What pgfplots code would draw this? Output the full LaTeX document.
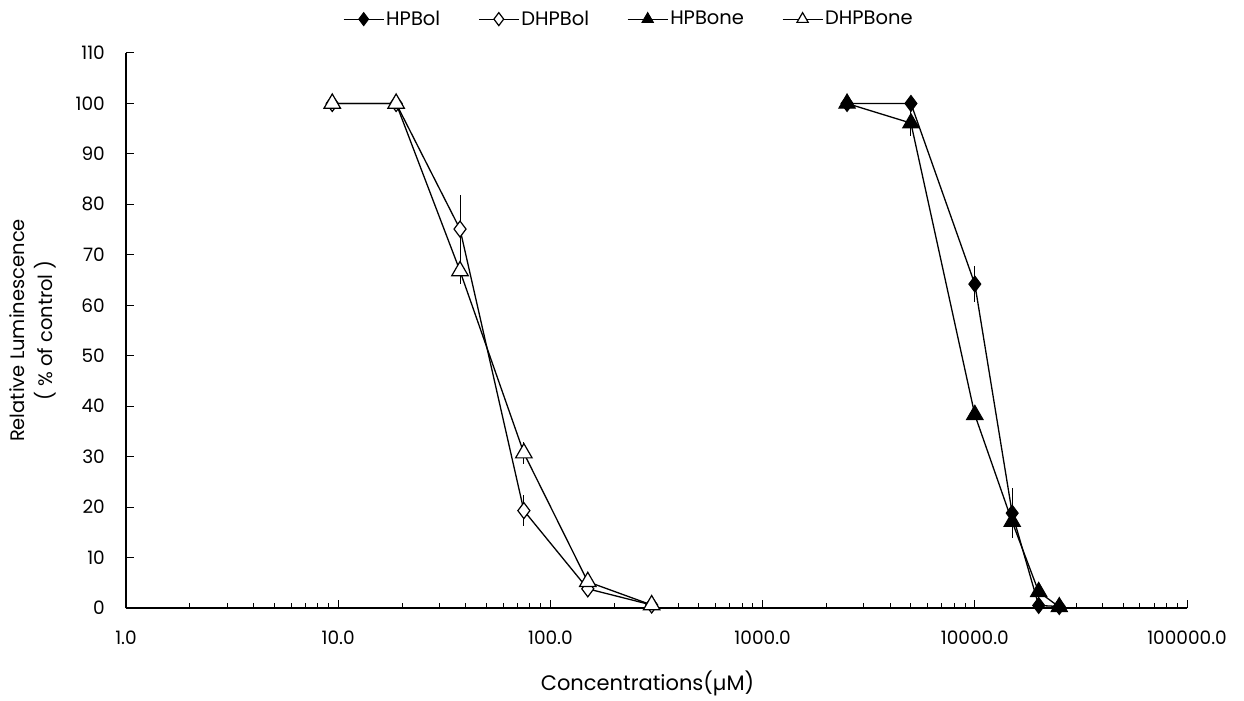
\documentclass[border=0pt]{standalone}
\usepackage{fontspec}
\setmainfont{Poppins}
\usepackage{pgfplots}
\pgfplotsset{compat=1.18}
\begin{document}
\fontsize{15}{18}\selectfont
\begin{tikzpicture}
\begin{axis}[
  at={(0,0)}, anchor=south west,
  scale only axis, width=1061pt, height=555pt,
  xmode=log, xmin=1, xmax=100000, ymin=0, ymax=110,
  axis lines*=left,
  ytick={0,10,...,110},
  xtick={1,10,100,1000,10000,100000},
  xticklabels={1.0,10.0,100.0,1000.0,10000.0,100000.0},
  major tick length=8pt, minor tick length=5pt,
  tick style={black, line width=1pt},
  axis line style={line width=1.3pt},
  /pgf/number format/assume math mode=true,
  ticklabel style={font=\fontsize{18.5}{22}\selectfont},
  xticklabel style={yshift=-18pt},
  yticklabel style={xshift=-16pt},
  xlabel={Concentrations(µM)},
  xlabel style={font=\fontsize{21}{25}\selectfont, at={(axis description cs:0.4915,-0.135)}, anchor=center},
  ylabel={Relative Luminescence\\( \% of control )},
  ylabel style={font=\fontsize{19.5}{28}\selectfont, align=center, at={(axis description cs:-0.088,0.5)}, anchor=center, rotate=0},
  legend columns=4,
  legend style={draw=none, at={(axis description cs:0.474,1.061)}, anchor=center, font=\fontsize{19.5}{22}\selectfont, /tikz/every even column/.append style={column sep=36pt}},
  legend image code/.code={\draw[#1, line width=1.1pt] (0pt,0pt) -- (40pt,0pt); \draw[#1, mark size=6.5pt, mark repeat=1] plot coordinates {(20pt,0pt)};},
  every axis plot/.append style={line width=1.3pt, black},
  error bars/y dir=both, error bars/y explicit, error bars/error mark=none,
  error bars/error bar style={line width=1pt, black},
  clip=false,
]
\addplot[mark=diamond*, mark size=8pt, mark options={fill=black, line width=1pt}] table[x=x, y=y, y error=e] {
x y e
2500 100 0
5000 100 0
10000 64.2 3.5
15000 18.8 5
20000 0.5 0
25000 0.3 0
};
\addlegendentry{HPBol}
\addplot[mark=diamond*, mark size=8pt, mark options={fill=white, line width=1.2pt}] table[x=x, y=y, y error=e] {
x y e
9.375 100 0
18.75 100 0
37.5 75.1 6.8
75 19.3 3.1
150 3.8 0.8
300 0.6 0
};
\addlegendentry{DHPBol}
\addplot[mark=triangle*, mark size=9.5pt, mark options={fill=black, line width=1pt}] table[x=x, y=y, y error=e] {
x y e
2500 100 0
5000 96.1 2.5
10000 38.3 0
15000 17.1 1.5
20000 3.2 0.5
25000 0.2 0
};
\addlegendentry{HPBone}
\addplot[mark=triangle*, mark size=9.5pt, mark options={fill=white, line width=1.2pt}] table[x=x, y=y, y error=e] {
x y e
9.375 100 0
18.75 100 0
37.5 66.8 2.5
75 30.7 2.2
150 5.2 1.5
300 0.6 0
};
\addlegendentry{DHPBone}
\end{axis}
\path[use as bounding box] (-126pt,-87pt) rectangle (1118pt,608pt);
\end{tikzpicture}
\end{document}
